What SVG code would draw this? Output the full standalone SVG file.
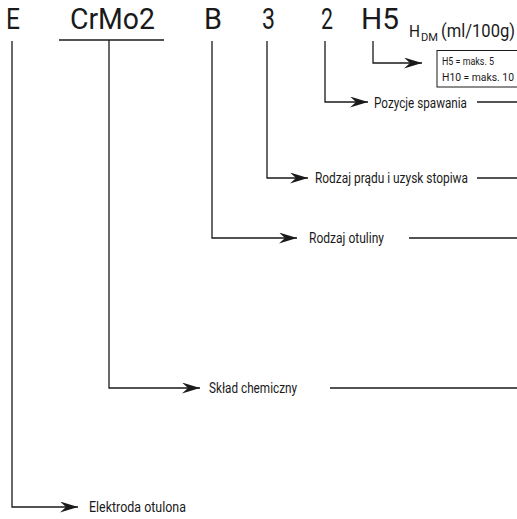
<svg xmlns="http://www.w3.org/2000/svg" width="517" height="519" viewBox="0 0 517 519">
<style>
.t{font-family:Roboto,"Liberation Sans",Arial,sans-serif;font-weight:400;fill:#1a1a1a}
.big{font-size:29px}
.lbl{font-size:14.5px}
.box{font-size:11px}
.ln{fill:none;stroke:#1a1a1a;stroke-width:1.3}
</style>
<defs>
<marker id="arr" viewBox="0 0 18 11" refX="18" refY="5.5" markerWidth="18" markerHeight="11" markerUnits="userSpaceOnUse" orient="auto">
<path d="M0,0 L18,5.5 L0,11 L6,5.5 Z" fill="#1a1a1a"/>
</marker>
</defs>
<rect width="517" height="519" fill="#fff"/>
<g id="code">
<text class="t big" x="6" y="29" textLength="14" lengthAdjust="spacingAndGlyphs">E</text>
<text class="t big" x="70" y="29" textLength="85" lengthAdjust="spacingAndGlyphs">CrMo2</text>
<text class="t big" x="204" y="29" textLength="18" lengthAdjust="spacingAndGlyphs">B</text>
<text class="t big" x="262" y="29" textLength="13" lengthAdjust="spacingAndGlyphs">3</text>
<text class="t big" x="321" y="29" textLength="12" lengthAdjust="spacingAndGlyphs">2</text>
<text class="t big" x="361" y="29" textLength="38" lengthAdjust="spacingAndGlyphs">H5</text>
<text class="t" x="409" y="37" font-size="17" textLength="11" lengthAdjust="spacingAndGlyphs">H</text>
<text class="t" x="421" y="41" font-size="10.5" textLength="17" lengthAdjust="spacingAndGlyphs">DM</text>
<text class="t" x="441" y="37" font-size="18" textLength="74" lengthAdjust="spacingAndGlyphs">(ml/100g)</text>
</g>
<g id="node-h">
<rect x="437" y="50.5" width="85" height="36.5" fill="#fff" stroke="#1a1a1a" stroke-width="1"/>
<text class="t box" x="442" y="65" textLength="52" lengthAdjust="spacingAndGlyphs">H5 = maks. 5</text>
<text class="t box" x="442" y="81" textLength="72" lengthAdjust="spacingAndGlyphs">H10 = maks. 10</text>
</g>
<g id="node-pozycje">
<text class="t lbl" x="374" y="108" textLength="93" lengthAdjust="spacingAndGlyphs">Pozycje spawania</text>
</g>
<g id="node-prad">
<text class="t lbl" x="315" y="183" textLength="153" lengthAdjust="spacingAndGlyphs">Rodzaj prądu i uzysk stopiwa</text>
</g>
<g id="node-otulina">
<text class="t lbl" x="309" y="243" textLength="75" lengthAdjust="spacingAndGlyphs">Rodzaj otuliny</text>
</g>
<g id="node-sklad">
<text class="t lbl" x="209" y="393" textLength="88" lengthAdjust="spacingAndGlyphs">Skład chemiczny</text>
</g>
<g id="node-elektroda">
<text class="t lbl" x="89" y="512" textLength="97" lengthAdjust="spacingAndGlyphs">Elektroda otulona</text>
</g>
<g id="connectors">
<path class="ln" d="M59,40 H164"/>
<path class="ln" d="M12,41 V507 H78" marker-end="url(#arr)"/>
<path class="ln" d="M109,40 V388 H200" marker-end="url(#arr)"/>
<path class="ln" d="M212,41 V238 H297" marker-end="url(#arr)"/>
<path class="ln" d="M267,41 V178 H308" marker-end="url(#arr)"/>
<path class="ln" d="M325,41 V102 H368" marker-end="url(#arr)"/>
<path class="ln" d="M373,41 V63 H422" marker-end="url(#arr)"/>
<path class="ln" d="M477,102 H517"/>
<path class="ln" d="M477,178 H517"/>
<path class="ln" d="M409,238 H517"/>
<path class="ln" d="M330,388 H517"/>
</g>
</svg>
